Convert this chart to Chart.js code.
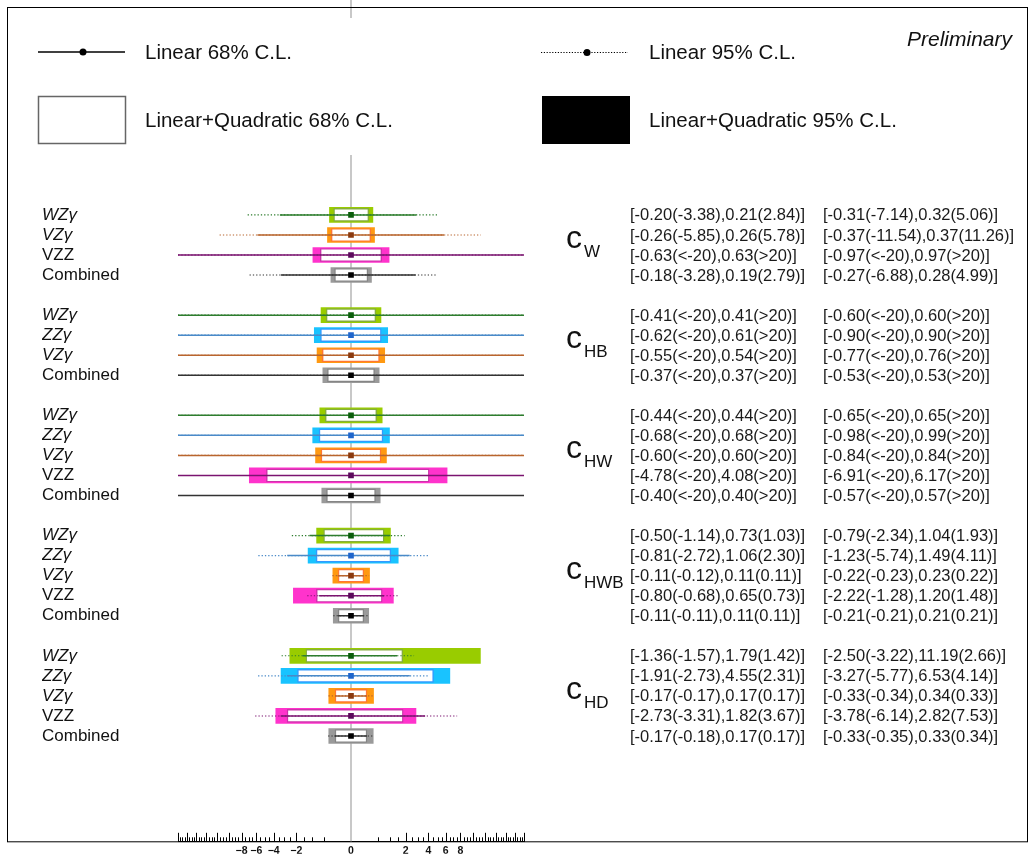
<!DOCTYPE html>
<html><head><meta charset="utf-8">
<script src="https://cdn.jsdelivr.net/npm/chart.js@4.4.1/dist/chart.umd.min.js"></script>
<style>html,body{margin:0;padding:0;background:#fff;}canvas{display:block;}</style>
</head><body>
<canvas id="c" width="1030" height="855"></canvas>
<script>
// ---------------- data ----------------
const processNames = ['WZγ', 'ZZγ', 'VZγ', 'VZZ', 'Combined'];
const coefficientNames = ['W', 'HB', 'HW', 'HWB', 'HD'];
const groupProcesses = [
  ['WZγ', 'VZγ', 'VZZ', 'Combined'],
  ['WZγ', 'ZZγ', 'VZγ', 'Combined'],
  ['WZγ', 'ZZγ', 'VZγ', 'VZZ', 'Combined'],
  ['WZγ', 'ZZγ', 'VZγ', 'VZZ', 'Combined'],
  ['WZγ', 'ZZγ', 'VZγ', 'VZZ', 'Combined']
];
// 68% C.L. : linear+quadratic (box) and linear only (line). +-20 means beyond the axis range
const lq68Low  = [-0.20, -0.26, -0.63, -0.18,  -0.41, -0.62, -0.55, -0.37,  -0.44, -0.68, -0.60, -4.78, -0.40,  -0.50, -0.81, -0.11, -0.80, -0.11,  -1.36, -1.91, -0.17, -2.73, -0.17];
const lq68High = [ 0.21,  0.26,  0.63,  0.19,   0.41,  0.61,  0.54,  0.37,   0.44,  0.68,  0.60,  4.08,  0.40,   0.73,  1.06,  0.11,  0.65,  0.11,   1.79,  4.55,  0.17,  1.82,  0.17];
const lin68Low = [-3.38, -5.85, -20, -3.28,  -20, -20, -20, -20,  -20, -20, -20, -20, -20,  -1.14, -2.72, -0.12, -0.68, -0.11,  -1.57, -2.73, -0.17, -3.31, -0.18];
const lin68High= [ 2.84,  5.78,  20,  2.79,   20,  20,  20,  20,   20,  20,  20,  20,  20,   1.03,  2.30,  0.11,  0.73,  0.11,   1.42,  2.31,  0.17,  3.67,  0.17];
// 95% C.L.
const lq95Low  = [-0.31, -0.37, -0.97, -0.27,  -0.60, -0.90, -0.77, -0.53,  -0.65, -0.98, -0.84, -6.91, -0.57,  -0.79, -1.23, -0.22, -2.22, -0.21,  -2.50, -3.27, -0.33, -3.78, -0.33];
const lq95High = [ 0.32,  0.37,  0.97,  0.28,   0.60,  0.90,  0.76,  0.53,   0.65,  0.99,  0.84,  6.17,  0.57,   1.04,  1.49,  0.23,  1.20,  0.21,  11.19,  6.53,  0.34,  2.82,  0.33];
const lin95Low = [-7.14, -11.54, -20, -6.88,  -20, -20, -20, -20,  -20, -20, -20, -20, -20,  -2.34, -5.74, -0.23, -1.28, -0.21,  -3.22, -5.77, -0.34, -6.14, -0.35];
const lin95High= [ 5.06,  11.26,  20,  4.99,   20,  20,  20,  20,   20,  20,  20,  20,  20,   1.93,  4.11,  0.22,  1.48,  0.21,   2.66,  4.14,  0.33,  7.53,  0.34];
const bestFit  = [0, 0, 0, 0,  0, 0, 0, 0,  0, 0, 0, 0, 0,  0, 0, 0, 0, 0,  0, 0, 0, 0, 0];
const axisRange = [-20, 20];
const majorTickValues = [-20, -18, -16, -14, -12, -10, -8, -6, -4, -2, 0, 2, 4, 6, 8, 10, 12, 14, 16, 18, 20];
const labeledTickValues = [-8, -6, -4, -2, 0, 2, 4, 6, 8];

// ---------------- styles ----------------
const FONT = "'Liberation Sans', Arial, Helvetica, sans-serif";
const procStyle = {
  'WZγ':      {fill: '#99cc00', edge: '#86ad3c', line: '#2e7d2e', mark: '#0b5e0b', italic: true},
  'ZZγ':      {fill: '#19c3ff', edge: '#3399ff', line: '#4a8ac8', mark: '#1f66cc', italic: true},
  'VZγ':      {fill: '#ff9911', edge: '#ff7733', line: '#b8652e', mark: '#8b3a0f', italic: true},
  'VZZ':      {fill: '#ff33cc', edge: '#cc33aa', line: '#7b1470', mark: '#5c0a5c', italic: false},
  'Combined': {fill: '#9a9a9a', edge: '#858585', line: '#333333', mark: '#000000', italic: false}
};

// ---------------- rows ----------------
const rows = [];
{
  let pos = 0;
  groupProcesses.forEach((procs, g) => {
    procs.forEach(p => { rows.push({group: g, proc: p, pos: pos}); pos++; });
    pos++;
  });
}
const labelAtPos = {};
rows.forEach(r => { labelAtPos[r.pos] = r.proc; });

// ---------------- custom signed-sqrt scale ----------------
class SignedSqrtScale extends Chart.LinearScale {
  _t(v) { return Math.sign(v) * Math.sqrt(Math.abs(v)); }
  getPixelForValue(v) {
    if (v === null || v === undefined || isNaN(v)) return NaN;
    const a = this._t(this.min), b = this._t(this.max);
    return this.getPixelForDecimal((this._t(v) - a) / (b - a));
  }
  getValueForPixel(p) {
    const a = this._t(this.min), b = this._t(this.max);
    const t = a + this.getDecimalForPixel(p) * (b - a);
    return Math.sign(t) * t * t;
  }
}
SignedSqrtScale.id = 'signedSqrt';
SignedSqrtScale.defaults = Chart.LinearScale.defaults;
Chart.register(SignedSqrtScale);

// ---------------- datasets ----------------
const datasets = [];
processNames.forEach(p => {
  const idx = rows.map((r, i) => i).filter(i => rows[i].proc === p);
  const s = procStyle[p];
  datasets.push({type: 'bar', indexAxis: 'y', label: p + ' LQ95',
    data: idx.map(i => ({y: rows[i].pos, x: [lq95Low[i], lq95High[i]]})),
    backgroundColor: s.fill, borderWidth: 0, barThickness: 15, grouped: false, order: 5});
  datasets.push({type: 'bar', indexAxis: 'y', label: p + ' LQ68',
    data: idx.map(i => ({y: rows[i].pos, x: [lq68Low[i], lq68High[i]]})),
    backgroundColor: '#ffffff', borderColor: s.edge, borderWidth: 1.4, borderSkipped: false,
    barThickness: 13, grouped: false, order: 4});
  const seg = (lo, hi) => idx.flatMap(i => [{x: lo[i], y: rows[i].pos}, {x: hi[i], y: rows[i].pos}, {x: null, y: null}]);
  datasets.push({type: 'line', label: p + ' L95', data: seg(lin95Low, lin95High),
    borderColor: s.line, borderWidth: 1.1, borderDash: [1.3, 2], pointRadius: 0, spanGaps: false, fill: false, order: 3});
  datasets.push({type: 'line', label: p + ' L68', data: seg(lin68Low, lin68High),
    borderColor: s.line, borderWidth: 1.5, pointRadius: 0, spanGaps: false, fill: false, order: 2});
  datasets.push({type: 'scatter', label: p + ' best', data: idx.map(i => ({x: bestFit[i], y: rows[i].pos})),
    pointStyle: 'rect', pointRadius: 4, backgroundColor: s.mark, borderWidth: 0, order: 1});
});

// ---------------- helpers ----------------
function fmt(v) { return v <= axisRange[0] ? '<' + axisRange[0] : (v >= axisRange[1] ? '>' + axisRange[1] : v.toFixed(2)); }
function interval(lq, lin, lqH, linH) { return '[' + fmt(lq) + '(' + fmt(lin) + '),' + fmt(lqH) + '(' + fmt(linH) + ')]'; }

const decor = {
  id: 'decor',
  beforeDatasetsDraw(chart) {
    const ctx = chart.ctx, x = chart.scales.x.getPixelForValue(0);
    ctx.save();
    ctx.strokeStyle = '#c8c8c8'; ctx.lineWidth = 2;
    ctx.beginPath();
    ctx.moveTo(x, chart.chartArea.top); ctx.lineTo(x, chart.chartArea.bottom);
    ctx.moveTo(x, 0); ctx.lineTo(x, 18);
    ctx.stroke();
    ctx.restore();
  },
  afterDraw(chart) {
    const ctx = chart.ctx, xs = chart.scales.x, ys = chart.scales.y, bottom = chart.chartArea.bottom;
    ctx.save();
    // frame
    ctx.strokeStyle = '#000'; ctx.lineWidth = 1;
    ctx.strokeRect(7.5, 7.5, 1020, bottom - 7.5);
    // x tick marks (pointing up)
    ctx.beginPath();
    xs.ticks.forEach(t => {
      if (t.value === 0) return;
      const px = Math.round(xs.getPixelForValue(t.value)) + 0.5;
      const len = majorTickValues.includes(t.value) ? 9 : 4.5;
      ctx.moveTo(px, bottom); ctx.lineTo(px, bottom - len);
    });
    ctx.stroke();
    // legend
    ctx.fillStyle = '#111'; ctx.textBaseline = 'middle'; ctx.textAlign = 'left';
    ctx.font = '20.5px ' + FONT;
    ctx.lineWidth = 1.6; ctx.strokeStyle = '#000';
    ctx.beginPath(); ctx.moveTo(38, 52); ctx.lineTo(125, 52); ctx.stroke();
    ctx.beginPath(); ctx.arc(83, 52, 3.5, 0, 2 * Math.PI); ctx.fillStyle = '#000'; ctx.fill();
    ctx.lineWidth = 1; ctx.setLineDash([1.2, 1.6]);
    ctx.beginPath(); ctx.moveTo(541, 52.5); ctx.lineTo(628, 52.5); ctx.stroke();
    ctx.setLineDash([]);
    ctx.beginPath(); ctx.arc(587, 52.5, 3.5, 0, 2 * Math.PI); ctx.fill();
    ctx.lineWidth = 1.5; ctx.strokeStyle = '#666';
    ctx.strokeRect(38.5, 96.5, 87, 47);
    ctx.fillStyle = '#000'; ctx.fillRect(542, 96, 88, 48);
    ctx.fillStyle = '#111';
    ctx.fillText('Linear 68% C.L.', 145, 53);
    ctx.fillText('Linear 95% C.L.', 649, 53);
    ctx.fillText('Linear+Quadratic 68% C.L.', 145, 121);
    ctx.fillText('Linear+Quadratic 95% C.L.', 649, 121);
    ctx.font = 'italic 21px ' + FONT; ctx.textAlign = 'right';
    ctx.fillText('Preliminary', 1012, 40);
    // interval texts
    ctx.textAlign = 'left'; ctx.font = '16.5px ' + FONT; ctx.fillStyle = '#1a1a1a';
    rows.forEach((r, i) => {
      const y = ys.getPixelForValue(r.pos) + 1;
      ctx.fillText(interval(lq68Low[i], lin68Low[i], lq68High[i], lin68High[i]), 630, y);
      ctx.fillText(interval(lq95Low[i], lin95Low[i], lq95High[i], lin95High[i]), 823, y);
    });
    // coefficient names
    ctx.textBaseline = 'alphabetic';
    coefficientNames.forEach((c, g) => {
      const gr = rows.filter(r => r.group === g);
      const yc = (ys.getPixelForValue(gr[0].pos) + ys.getPixelForValue(gr[gr.length - 1].pos)) / 2;
      ctx.font = '32px ' + FONT; ctx.fillStyle = '#111';
      ctx.fillText('c', 566, yc + 3);
      ctx.font = '17px ' + FONT;
      ctx.fillText(c, 584, yc + 12);
    });
    ctx.restore();
  }
};

new Chart(document.getElementById('c'), {
  type: 'bar',
  data: {datasets: datasets},
  options: {
    responsive: false, animation: false, events: [],
    layout: {padding: {top: 155, left: 42, right: 506, bottom: 0}},
    plugins: {legend: {display: false}, tooltip: {enabled: false}},
    scales: {
      x: {
        type: 'signedSqrt', position: 'bottom', min: axisRange[0], max: axisRange[1], offset: false,
        grid: {display: false, drawTicks: false, offset: false},
        border: {display: true, color: '#000', width: 1},
        afterBuildTicks: (scale) => {
          const t = [];
          for (let v = axisRange[0]; v <= axisRange[1] + 1e-9; v += 0.5) t.push({value: Math.round(v * 2) / 2});
          scale.ticks = t;
        },
        afterFit: (scale) => { scale.height = 12; },
        ticks: {
          autoSkip: false, maxRotation: 0, padding: 3, color: '#111',
          font: {family: FONT, size: 10.5, weight: 'bold'},
          callback: (v) => labeledTickValues.includes(v) ? (v < 0 ? '\u2212' + Math.abs(v) : String(v)) : ''
        }
      },
      y: {
        type: 'linear', position: 'left', reverse: true, min: -2.99, max: 31.28, offset: false,
        grid: {display: false, drawTicks: false, offset: false},
        border: {display: false},
        afterBuildTicks: (scale) => { scale.ticks = rows.map(r => ({value: r.pos})); },
        afterFit: (scale) => { scale.width = 136; },
        ticks: {
          autoSkip: false, crossAlign: 'far', color: '#111',
          font: (ctx) => ({family: FONT, size: 17, style: (ctx.tick && procStyle[labelAtPos[ctx.tick.value]] && procStyle[labelAtPos[ctx.tick.value]].italic) ? 'italic' : 'normal'}),
          callback: (v) => labelAtPos[v] || ''
        }
      }
    }
  },
  plugins: [decor]
});
</script>
</body></html>
